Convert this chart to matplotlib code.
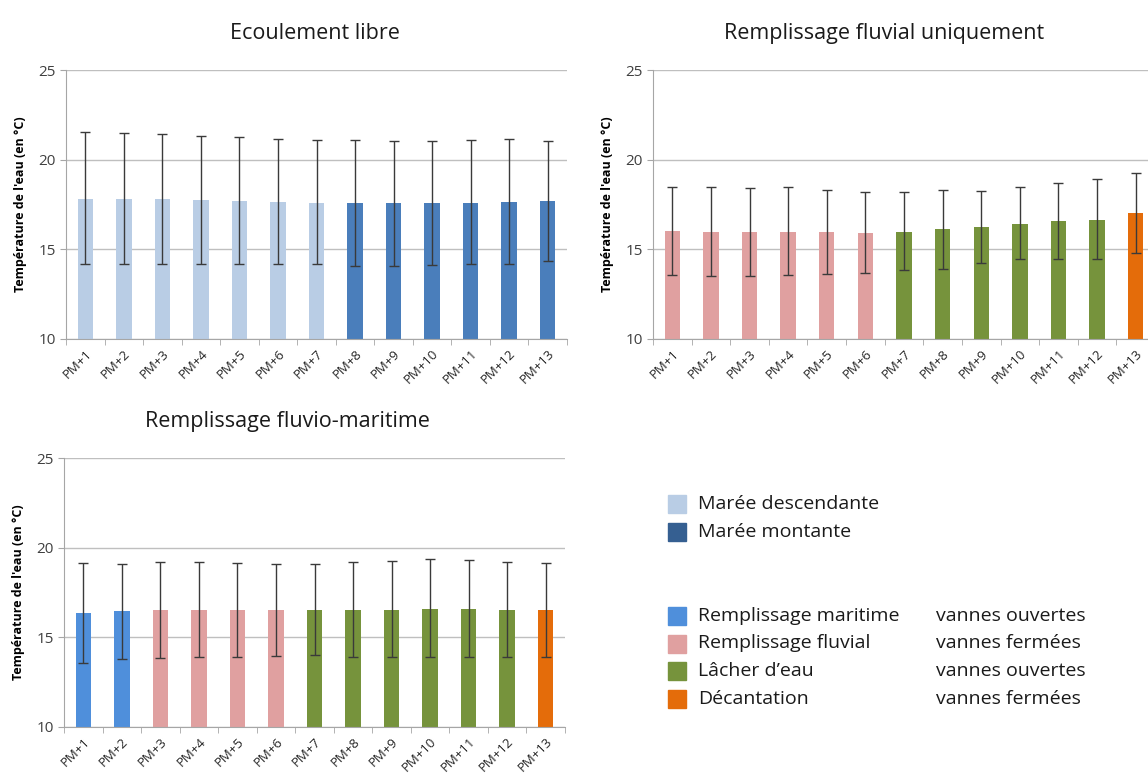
import matplotlib.pyplot as plt
import numpy as np
from matplotlib.patches import Rectangle

plt.rcParams['font.family'] = ['Open Sans', 'DejaVu Sans']

# Data
labels = ['PM+%d' % i for i in range(1, 14)]

# Ecoulement libre
libre_mean = [17.83, 17.78, 17.78, 17.74, 17.70, 17.65, 17.61, 17.56, 17.56, 17.56, 17.61, 17.65, 17.69]
libre_low = [14.2, 14.2, 14.2, 14.2, 14.2, 14.2, 14.2, 14.09, 14.09, 14.15, 14.2, 14.2, 14.37]
libre_high = [21.52, 21.48, 21.43, 21.33, 21.24, 21.15, 21.11, 21.07, 21.06, 21.06, 21.11, 21.15, 21.06]
libre_phase = ['desc'] * 7 + ['mont'] * 6

# Remplissage fluvial uniquement
fluv_mean = [16.02, 15.98, 15.94, 15.98, 15.94, 15.91, 15.98, 16.11, 16.24, 16.41, 16.56, 16.65, 17.0]
fluv_low = [13.57, 13.54, 13.54, 13.57, 13.63, 13.69, 13.83, 13.93, 14.22, 14.44, 14.44, 14.44, 14.78]
fluv_high = [18.5, 18.5, 18.43, 18.46, 18.31, 18.19, 18.19, 18.31, 18.28, 18.46, 18.72, 18.91, 19.24]
fluv_phase = ['fluvial'] * 6 + ['lacher'] * 6 + ['decant']

# Remplissage fluvio-maritime
fm_mean = [16.33, 16.46, 16.5, 16.54, 16.5, 16.54, 16.54, 16.5, 16.54, 16.59, 16.59, 16.54, 16.5]
fm_low = [13.59, 13.8, 13.85, 13.89, 13.93, 13.98, 14.0, 13.89, 13.93, 13.89, 13.93, 13.93, 13.89]
fm_high = [19.13, 19.11, 19.2, 19.2, 19.15, 19.09, 19.09, 19.2, 19.26, 19.35, 19.31, 19.2, 19.15]
fm_phase = ['maritime'] * 2 + ['fluvial'] * 4 + ['lacher'] * 6 + ['decant']

colors = {
    'desc': '#B9CDE5',
    'mont': '#4A7EBB',
    'maritime': '#4F8FDB',
    'fluvial': '#E0A0A0',
    'lacher': '#76933C',
    'decant': '#E46C0A',
}

legend_tide = [('Marée descendante', '#B9CDE5'), ('Marée montante', '#355F91')]
legend_phase = [('Remplissage maritime', 'vannes ouvertes', '#4F8FDB'),
                ('Remplissage fluvial', 'vannes fermées', '#E0A0A0'),
                ("Lâcher d\u2019eau", 'vannes ouvertes', '#76933C'),
                ('Décantation', 'vannes fermées', '#E46C0A')]

W, H = 1148, 783
fig = plt.figure(figsize=(W / 100, H / 100), dpi=100)


def px_axes(l, t, r, b):
    return fig.add_axes([l / W, 1 - b / H, (r - l) / W, (b - t) / H])


def draw(ax, title, mean, low, high, phase, title_x=0.5):
    x = np.arange(len(mean))
    mean = np.array(mean)
    yerr = [mean - np.array(low), np.array(high) - mean]
    ax.bar(x, mean - 10, bottom=10, width=0.4, color=[colors[p] for p in phase], zorder=2)
    ax.errorbar(x, mean, yerr=yerr, fmt='none', ecolor='#3a3a3a', elinewidth=1,
                capsize=3.5, capthick=1, zorder=3)
    ax.set_xlim(-0.5, len(mean) - 0.5)
    ax.set_ylim(10, 25)
    ax.set_yticks([10, 15, 20, 25])
    ax.yaxis.grid(True, color='#BFBFBF', linewidth=1, zorder=0)
    ax.set_axisbelow(True)
    ax.set_xticks(x)
    ax.set_xticklabels(labels, rotation=45, ha='right', rotation_mode='anchor',
                       fontsize=9.5, color='#262626')
    ax.set_xticks(np.arange(len(mean) + 1) - 0.5, minor=True)
    ax.tick_params(axis='x', which='major', length=0, pad=6)
    ax.tick_params(axis='x', which='minor', length=4, color='#A6A6A6')
    ax.tick_params(axis='y', length=4, color='#A6A6A6', labelsize=11, labelcolor='#404040')
    for s in ['top', 'right']:
        ax.spines[s].set_visible(False)
    for s in ['left', 'bottom']:
        ax.spines[s].set_color('#A6A6A6')
    ax.set_ylabel("Température de l'eau (en °C)", fontsize=9, fontweight='bold', labelpad=8)
    ax.set_title(title, fontsize=15.5, color='#1a1a1a', pad=22, x=title_x)


ax1 = px_axes(66, 70, 567, 339)
draw(ax1, 'Ecoulement libre', libre_mean, libre_low, libre_high, libre_phase, 0.497)

ax2 = px_axes(653, 70, 1155, 339)
draw(ax2, 'Remplissage fluvial uniquement', fluv_mean, fluv_low, fluv_high, fluv_phase, 0.46)

ax3 = px_axes(64, 458, 565, 727)
draw(ax3, 'Remplissage fluvio-maritime', fm_mean, fm_low, fm_high, fm_phase, 0.445)

# legends drawn by hand
sw = 18
for i, (txt, c) in enumerate(legend_tide):
    yc = 504 + i * 28
    fig.patches.append(Rectangle((668 / W, 1 - (yc + sw / 2) / H), sw / W, sw / H,
                                 transform=fig.transFigure, color=c))
    fig.text(698 / W, 1 - yc / H, txt, fontsize=14, va='center', color='#1a1a1a')

for i, (txt, state, c) in enumerate(legend_phase):
    yc = 616 + i * 27.5
    fig.patches.append(Rectangle((668 / W, 1 - (yc + sw / 2) / H), sw / W, sw / H,
                                 transform=fig.transFigure, color=c))
    fig.text(698 / W, 1 - yc / H, txt, fontsize=14, va='center', color='#1a1a1a')
    fig.text(936 / W, 1 - yc / H, state, fontsize=14, va='center', color='#1a1a1a')

fig.savefig('out.png', dpi=100)
